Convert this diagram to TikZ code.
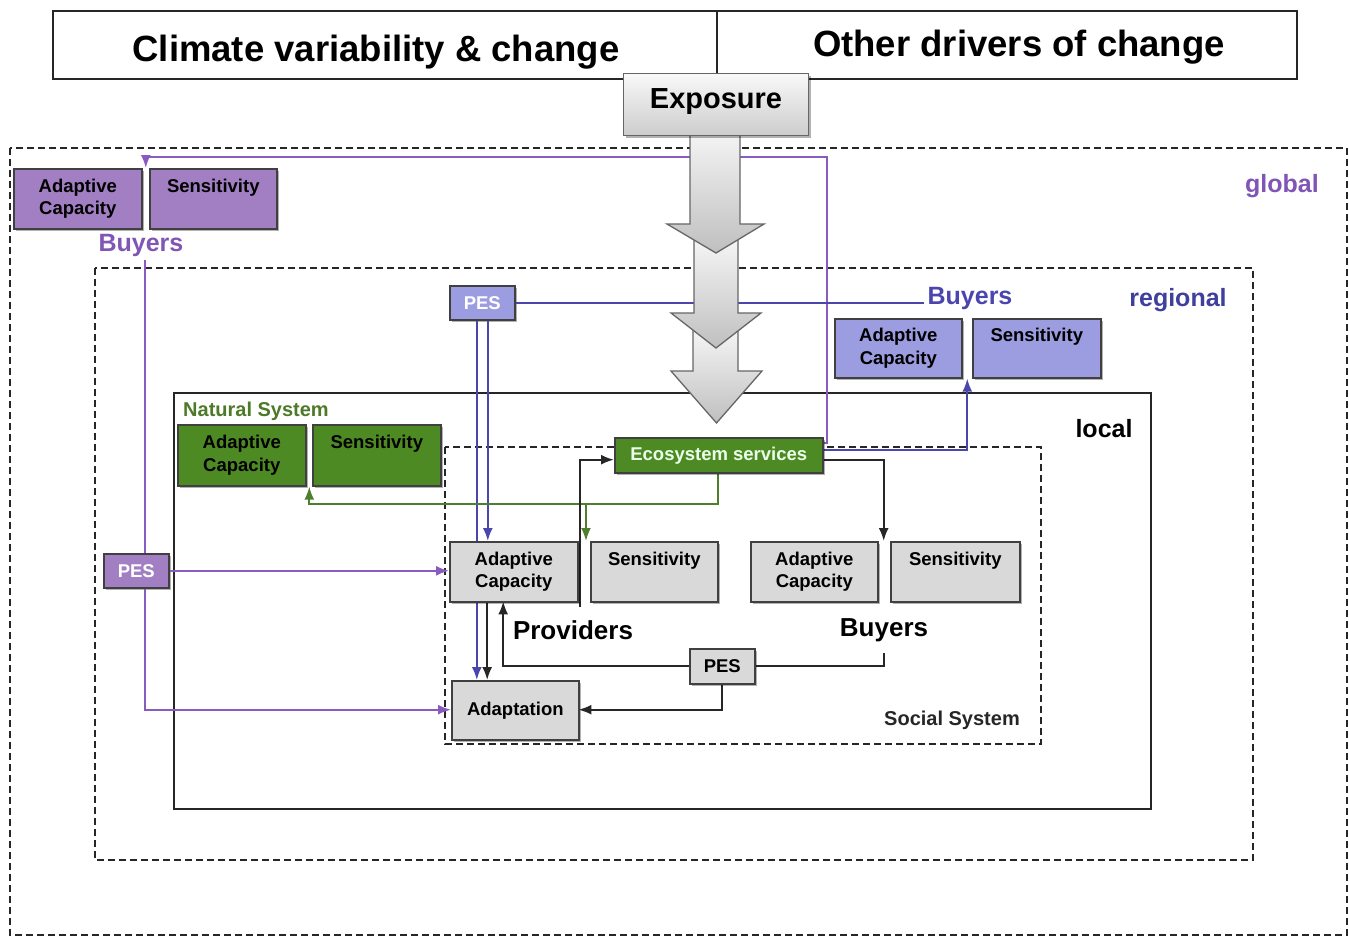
\documentclass[tikz,border=0pt]{standalone}
\usepackage{fontspec}
\setmainfont{Liberation Sans}
\usetikzlibrary{arrows.meta,shadows,calc}
\definecolor{purpfill}{HTML}{A27FC2}
\definecolor{purpline}{HTML}{8A5BBE}
\definecolor{purptext}{HTML}{7F55B5}
\definecolor{bluefill}{HTML}{9C9CE0}
\definecolor{blueline}{HTML}{4B45AE}
\definecolor{bluetext}{HTML}{3F3F9C}
\definecolor{greenfill}{HTML}{4E8A24}
\definecolor{greenline}{HTML}{4E7F2C}
\definecolor{greentext}{HTML}{4D7A27}
\definecolor{grayfill}{HTML}{D9D9D9}
\definecolor{boxline}{HTML}{404040}
\begin{document}
\begin{tikzpicture}[x=1pt,y=-1pt,
  abox/.style={draw=boxline, line width=1.6pt, anchor=north west, align=center, inner sep=0pt,
    font=\fontsize{18.5}{22.5}\selectfont\bfseries,
    drop shadow={shadow xshift=2pt, shadow yshift=-2pt, opacity=0.3, fill=black}},
  frame/.style={draw=black!85, line width=1.8pt, dash pattern=on 7pt off 4pt},
  lbl/.style={font=\fontsize{25}{30}\selectfont\bfseries},
  pline/.style={draw=purpline, line width=2pt},
  rline/.style={draw=blueline, line width=2pt},
  gline/.style={draw=greenline, line width=2pt},
  bline/.style={draw=black!85, line width=2pt},
  arr/.style={-{Latex[length=13pt,width=10pt]}},
  expo/.style={draw=black!60, line width=1.3pt, top color=gray!8, bottom color=gray!50},
]
\useasboundingbox (0,0) rectangle (1349,943);

% ---- top boxes
\node[draw=black!85, line width=1.8pt, anchor=north west, minimum width=664pt, minimum height=68pt, inner sep=0pt] (climbox) at (52,10) {};
\node[draw=black!85, line width=1.8pt, anchor=north west, minimum width=580pt, minimum height=68pt, inner sep=0pt] (othbox) at (716,10) {};
\node[font=\fontsize{36.5}{40}\selectfont\bfseries] (clim) at (376,52) {Climate variability \& change};
\node[font=\fontsize{36.5}{40}\selectfont\bfseries] (oth) at (1019,47) {Other drivers of change};

% ---- frames
\draw[frame] (10,148) rectangle (1347,935);
\draw[frame] (95,268) rectangle (1253,860);
\draw[draw=black!85, line width=2pt] (174,393) rectangle (1151,809);
\draw[frame] (445,447) rectangle (1041,744);

% ---- labels
\node[lbl, text=purptext] (global) at (1282,186) {global};
\node[lbl, text=bluetext] (regional) at (1178,300) {regional};
\node[lbl] (local) at (1104,429) {local};
\node[font=\fontsize{20}{24}\selectfont\bfseries, text=black!85] (social) at (952,720) {Social System};
\node[font=\fontsize{20}{24}\selectfont\bfseries, text=greentext] (natural) at (256,411) {Natural System};
\node[lbl, text=purptext] (gbuy) at (141,245) {Buyers};
\node[lbl, text=blueline] (rbuy) at (970,298) {Buyers};
\node[font=\fontsize{26}{30}\selectfont\bfseries] (prov) at (573,630) {Providers};
\node[font=\fontsize{26}{30}\selectfont\bfseries] (lbuy) at (884,630) {Buyers};

% global
\node[abox, fill=purpfill, minimum width=128pt, minimum height=60pt] (gac) at (13,168) {Adaptive\\Capacity};
\node[abox, fill=purpfill, minimum width=127pt, minimum height=60pt] (gsens) at (149,168) {Sensitivity\\\phantom{Capacity}};
\node[abox, fill=purpfill, text=white, minimum width=65pt, minimum height=34pt] (gpes) at (103,553) {PES};
% regional
\node[abox, fill=bluefill, text=white, minimum width=65pt, minimum height=34pt] (rpes) at (449,285) {PES};
\node[abox, fill=bluefill, minimum width=127pt, minimum height=59pt] (rac) at (834,318) {Adaptive\\Capacity};
\node[abox, fill=bluefill, minimum width=128pt, minimum height=59pt] (rsens) at (972,318) {Sensitivity\\\phantom{Capacity}};
% natural
\node[abox, fill=greenfill, minimum width=128pt, minimum height=61pt] (nac) at (177,424) {Adaptive\\Capacity};
\node[abox, fill=greenfill, minimum width=128pt, minimum height=61pt] (nsens) at (312,424) {Sensitivity\\\phantom{Capacity}};

% ---- connectors
\coordinate (gturn) at (827,157);
\coordinate (gx) at (145,0);
\coordinate (gy) at (717,504);
\coordinate (gbr) at (586,504);
\coordinate (provsrc) at (580,607);
\coordinate (ggap) at ($(gac.north east)!.5!(gsens.north west)$);
\coordinate (rgap) at ($(rac.south east)!.5!(rsens.south west)$);
\coordinate (ngap) at ($(nac.south east)!.5!(nsens.south west)$);

% placeholders of local boxes for coordinates
\path (614,437) node[minimum width=208pt, minimum height=35pt, inner sep=0pt, anchor=north west] (es) {}
  (449,541) node[minimum width=128pt, minimum height=60pt, inner sep=0pt, anchor=north west] (pac) {}
  (590,541) node[minimum width=127pt, minimum height=60pt, inner sep=0pt, anchor=north west] (psens) {}
  (750,541) node[minimum width=127pt, minimum height=60pt, inner sep=0pt, anchor=north west] (bac) {}
  (890,541) node[minimum width=129pt, minimum height=60pt, inner sep=0pt, anchor=north west] (bsens) {}
  (689,648) node[minimum width=65pt, minimum height=35pt, inner sep=0pt, anchor=north west] (lpes) {}
  (451,680) node[minimum width=127pt, minimum height=59pt, inner sep=0pt, anchor=north west] (adapt) {};
\coordinate (bgap) at ($(bac.north east)!.5!(bsens.north west)$);

% purple (global)
\draw[pline, arr] ([yshift=-6pt]es.north east) -| (gturn) -| (ggap);
\draw[pline] (gbuy.south -| gx) -- (gpes.north -| gx);
\draw[pline, arr] (gpes.south -| gx) |- (adapt.west);
\draw[pline, arr] (gpes.east) -- (gpes.east -| pac.west);

% blue (regional)
\draw[rline] (rpes.east) -- (rpes.east -| rbuy.west);
\draw[rline, arr] ([xshift=-5.5pt]rpes.south) -- ([xshift=-5.5pt]rpes.south |- adapt.north);
\draw[rline, arr] ([xshift=5.5pt]rpes.south) -- ([xshift=5.5pt]rpes.south |- pac.north);
\draw[rline, arr] ([yshift=4.5pt]es.east) -| (rgap);

% green
\draw[gline, arr] (es.south) -- (es.south |- gy) -| (ngap);
\draw[gline, arr] (gbr) -- (gbr |- psens.north);

% black
\draw[bline, arr] (provsrc) |- ([yshift=-5pt]es.west);
\draw[bline, arr] ([yshift=-5pt]es.east) -| (bgap);
\draw[bline, arr] (lpes.west) -| ([xshift=-10pt]pac.south);
\draw[bline] (lpes.east) -| ([yshift=-8pt]lbuy.south);
\draw[bline, arr] (lpes.south) |- (adapt.east);
\draw[bline, arr] ([xshift=-26pt]pac.south) -- ([xshift=-26pt]pac.south |- adapt.north);

% ---- local boxes drawn on top
\node[abox, fill=greenfill, text=green!8, minimum width=208pt, minimum height=35pt] (esbox) at (614,437) {Ecosystem services};
\node[abox, fill=grayfill, minimum width=128pt, minimum height=60pt] (pacbox) at (449,541) {Adaptive\\Capacity};
\node[abox, fill=grayfill, minimum width=127pt, minimum height=60pt] (psensbox) at (590,541) {Sensitivity\\\phantom{Capacity}};
\node[abox, fill=grayfill, minimum width=127pt, minimum height=60pt] (bacbox) at (750,541) {Adaptive\\Capacity};
\node[abox, fill=grayfill, minimum width=129pt, minimum height=60pt] (bsensbox) at (890,541) {Sensitivity\\\phantom{Capacity}};
\node[abox, fill=grayfill, minimum width=65pt, minimum height=35pt] (lpesbox) at (689,648) {PES};
\node[abox, fill=grayfill, minimum width=127pt, minimum height=59pt] (adaptbox) at (451,680) {Adaptation};

% ---- exposure arrows
\draw[expo] (693,330) -- (738,330) -- (738,371) -- (762,371) -- (716.5,423) -- (671,371) -- (693,371) -- cycle;
\draw[expo] (694,240) -- (738,240) -- (738,313) -- (761,313) -- (716,348) -- (671,313) -- (694,313) -- cycle;
\draw[expo] (690,130) -- (740,130) -- (740,224) -- (764,224) -- (716,253) -- (667,224) -- (690,224) -- cycle;
\node[draw=black!60, line width=1.3pt, top color=gray!5, bottom color=gray!40, anchor=north west, minimum width=185pt, minimum height=62pt, inner sep=0pt,
  drop shadow={shadow xshift=2pt, shadow yshift=-2pt, opacity=0.3, fill=black}] (expbox) at (623,73) {};
\node[font=\fontsize{29}{32}\selectfont\bfseries] (exposure) at (716,102) {Exposure};
\end{tikzpicture}
\end{document}
